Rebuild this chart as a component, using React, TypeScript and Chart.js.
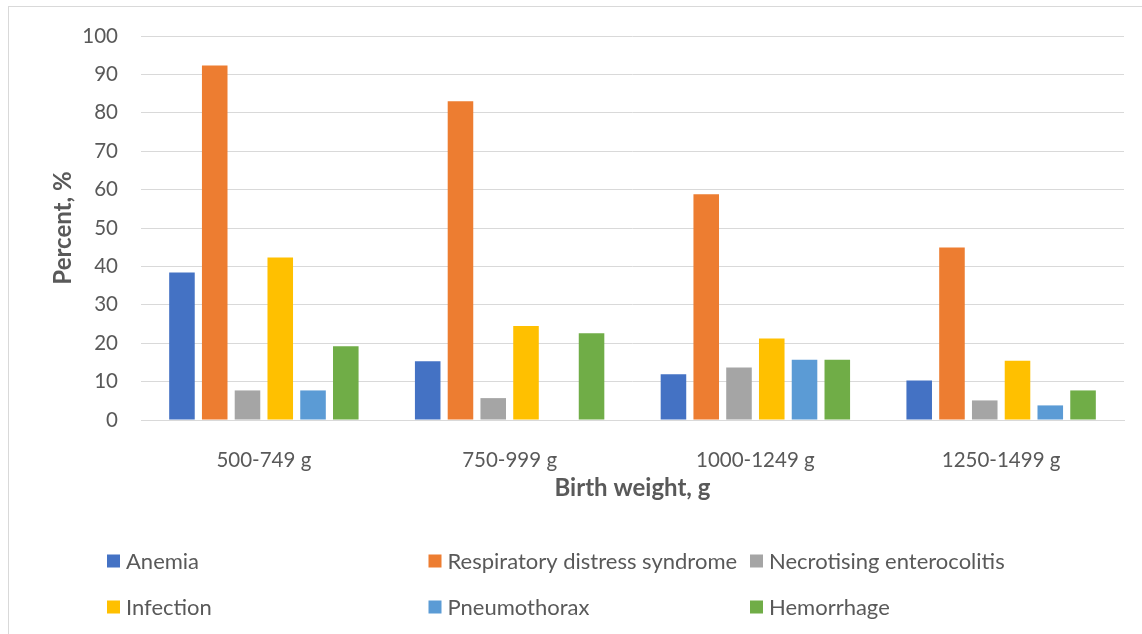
import React, { useEffect, useRef } from "react";
import { Chart, registerables } from "chart.js";

Chart.register(...registerables);

const categories = ["500-749 g", "750-999 g", "1000-1249 g", "1250-1499 g"];
const seriesNames = [
  "Anemia",
  "Respiratory distress syndrome",
  "Necrotising enterocolitis",
  "Infection",
  "Pneumothorax",
  "Hemorrhage",
];
const anemia = [38.4, 15.3, 11.9, 10.3];
const rds = [92.3, 83.0, 58.8, 44.9];
const nec = [7.7, 5.7, 13.7, 5.1];
const infection = [42.3, 24.5, 21.2, 15.4];
const pneumothorax = [7.7, 0, 15.7, 3.8];
const hemorrhage = [19.2, 22.6, 15.7, 7.7];
const colors = ["#4472C4", "#ED7D31", "#A5A5A5", "#FFC000", "#5B9BD5", "#70AD47"];
const yMin = 0;
const yMax = 100;
const yStep = 10;
const yTitle = "Percent, %";
const xTitle = "Birth weight, g";

const FONT = "Lato, 'Open Sans', sans-serif";
const TEXT = "#595959";

const borderPlugin = {
  id: "frameBorder",
  beforeDraw(chart: any) {
    const ctx = chart.ctx;
    ctx.save();
    ctx.fillStyle = "#ffffff";
    ctx.fillRect(0, 0, chart.width, chart.height);
    ctx.strokeStyle = "#d9d9d9";
    ctx.lineWidth = 1;
    ctx.strokeRect(8.5, 6.5, chart.width + 20, chart.height + 20);
    ctx.restore();
  },
};

const gridLegendPlugin = {
  id: "gridLegend",
  afterDraw(chart: any) {
    const ctx = chart.ctx;
    const datasets = chart.data.datasets;
    const colStart = 107;
    const colWidth = 321.5;
    const rowY = [561, 607];
    const box = 13;
    ctx.save();
    ctx.font = `22px ${FONT}`;
    ctx.textBaseline = "middle";
    ctx.textAlign = "left";
    datasets.forEach((ds: any, i: number) => {
      const col = i % 3;
      const row = Math.floor(i / 3);
      const x = colStart + col * colWidth;
      const y = rowY[row];
      ctx.fillStyle = ds.backgroundColor;
      ctx.fillRect(x, y - box / 2, box, box);
      ctx.fillStyle = TEXT;
      ctx.fillText(ds.label, x + box + 6, y + 1);
    });
    ctx.restore();
  },
};

export default function App() {
  const ref = useRef<HTMLCanvasElement | null>(null);

  useEffect(() => {
    document.body.style.margin = "0";
    if (!ref.current) return;
    const seriesValues = [anemia, rds, nec, infection, pneumothorax, hemorrhage];
    const chart = new Chart(ref.current, {
      type: "bar",
      data: {
        labels: categories,
        datasets: seriesNames.map((name, i) => ({
          label: name,
          data: seriesValues[i],
          backgroundColor: colors[i],
          borderWidth: 0,
          categoryPercentage: 0.8,
          barPercentage: 0.78,
        })),
      },
      options: {
        animation: false,
        responsive: false,
        maintainAspectRatio: false,
        devicePixelRatio: 1,
        layout: { padding: { left: 49, right: 18, top: 36, bottom: 124 } },
        plugins: {
          legend: { display: false },
          tooltip: { enabled: false },
        },
        scales: {
          x: {
            grid: { display: false },
            border: { display: true, color: "#d9d9d9", width: 1 },
            ticks: {
              color: TEXT,
              font: { family: FONT, size: 20.5 },
              padding: 20,
            },
            title: {
              display: true,
              text: xTitle,
              color: TEXT,
              font: { family: FONT, size: 24, weight: "bold" },
              padding: { top: 0, bottom: 7 },
            },
            afterFit(scale: any) {
              scale.height = 90;
            },
          },
          y: {
            min: yMin,
            max: yMax,
            grid: { color: "#d9d9d9", lineWidth: 1, drawTicks: false },
            border: { display: false },
            ticks: {
              stepSize: yStep,
              color: TEXT,
              font: { family: FONT, size: 20.5 },
              padding: 23,
            },
            title: {
              display: true,
              text: yTitle,
              color: TEXT,
              font: { family: FONT, size: 24, weight: "bold" },
              padding: 0,
            },
            afterFit(scale: any) {
              scale.width = 92;
            },
          },
        },
      },
      plugins: [borderPlugin, gridLegendPlugin],
    });
    return () => chart.destroy();
  }, []);

  return (
    <div style={{ width: 1142, height: 634 }}>
      <canvas ref={ref} width={1142} height={634} style={{ width: 1142, height: 634, display: "block" }} />
    </div>
  );
}
